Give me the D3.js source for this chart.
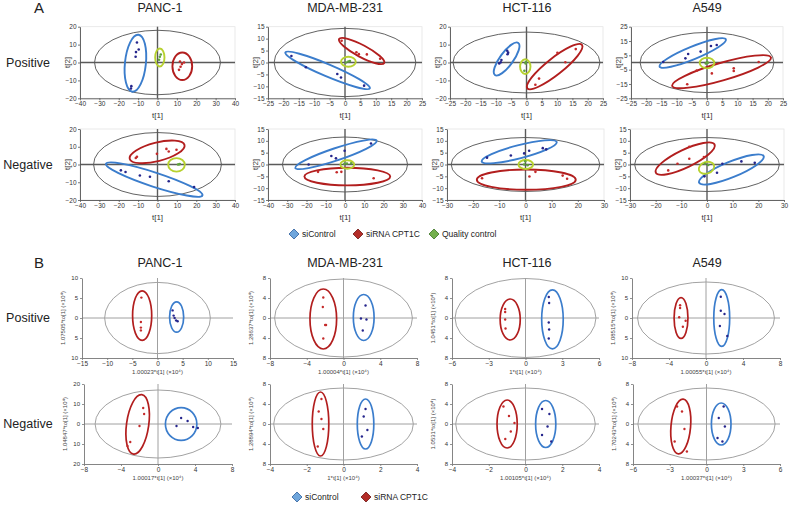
<!DOCTYPE html>
<html><head><meta charset="utf-8">
<script src="https://cdn.jsdelivr.net/npm/d3@7/dist/d3.min.js"></script>
<style>body{margin:0;background:#fff}svg{display:block}</style>
</head><body><svg id="c" width="789" height="514"></svg>
<script>
// ---------------- DATA ----------------
const cellLines = ["PANC-1", "MDA-MB-231", "HCT-116", "A549"];
const modes = ["Positive", "Negative"];
const groupsA = ["siControl", "siRNA CPT1C", "Quality control"];
const groupsB = ["siControl", "siRNA CPT1C"];

// Panel A (PCA score plots), order: Positive x4, Negative x4
const aXTicks = [
  [-40,-30,-20,-10,0,10,20,30,40], [-25,-20,-15,-10,-5,0,5,10,15,20,25],
  [-25,-20,-15,-10,-5,0,5,10,15,20,25], [-25,-20,-15,-10,-5,0,5,10,15,20,25],
  [-40,-30,-20,-10,0,10,20,30,40], [-40,-30,-20,-10,0,10,20,30,40],
  [-30,-20,-10,0,10,20,30], [-30,-20,-10,0,10,20,30]];
const aYTicks = [
  [-20,-10,0,10,20], [-15,-10,-5,0,5,10,15], [-20,-10,0,10,20], [-25,-15,-5,5,15,25],
  [-20,-10,0,10,20], [-15,-10,-5,0,5,10,15], [-15,-10,-5,0,5,10,15], [-15,-10,-5,0,5,10,15]];
const aYDomains = [[-20,20],[-15,15],[-20,20],[-25,25],[-20,20],[-15,15],[-15,15],[-15,15]];
const aHotelling = [[32.5,18],[23,14.3],[24,17],[22,21],[33,18],[32.5,11.6],[28.4,11.4],[28.2,11.4]];

// points [t1, t2]
const aPosPANC1Ctrl = [[-10.6,11.2],[-9.7,7.3],[-11.1,5.8],[-11.3,3.2],[-13.5,-13.2],[-13.7,-14.5]];
const aPosPANC1Si   = [[11.6,0.6],[13.7,0],[12.6,-0.9],[11.9,-2.4],[11.1,-4.1]];
const aPosPANC1Qc   = [[1.7,4.5],[1.2,3.2],[0.8,1.5]];
const aPosMDACtrl   = [[-17.4,2.7],[-12.7,-2.0],[-2.5,-4.8],[-1.3,-6.3],[6.2,-9.7]];
const aPosMDASi     = [[-1.1,9.1],[3.7,4.3],[4.5,3.5],[7.1,3.4],[11.4,1.6]];
const aPosMDAQc     = [[0.3,0],[1.1,0.4],[1.6,0.6]];
const aPosHCTCtrl   = [[-6.3,6.6],[-6.0,5.5],[-6.2,4.6],[-8.2,1.4],[-8.4,0.1],[-8.9,-0.5]];
const aPosHCTSi     = [[10.1,5.4],[16.1,7.5],[12.7,0.1],[4.1,-9.0],[2.9,-12.4]];
const aPosHCTQc     = [[-0.2,0.3],[-0.3,-0.5],[-0.7,-4.6]];
const aPosA549Ctrl  = [[-14.4,0.3],[-7.1,2.9],[-6.2,5.9],[-2.1,7.6],[1.3,11.5],[3.2,12.2]];
const aPosA549Si    = [[17.0,0.3],[8.8,-4.1],[8.8,-5.9],[1.6,-7.6],[-3.4,-5.7],[-6.5,-15.2]];
const aPosA549Qc    = [[0,0.3],[-0.4,-0.7],[0.3,-0.2]];
const aNegPANC1Ctrl = [[-18.9,-3.3],[-16.5,-4.2],[-9.1,-6.2],[-3.9,-6.9],[5.8,-9.4],[18.9,-12.7]];
const aNegPANC1Si   = [[-10.6,4.4],[-11.2,3.7],[-0.3,6.0],[4.6,8.8],[5.8,7.3],[9.8,8.3]];
const aNegPANC1Qc   = [[10.6,0],[11.3,0.1],[11.5,0.3]];
const aNegMDACtrl   = [[-18.9,0],[-7.1,3.6],[-4.7,2.6],[-0.2,5.8],[13.5,8.9]];
const aNegMDASi     = [[-14.0,-3.1],[-4.3,-3.3],[-1.9,-3.1],[14.9,-5.8]];
const aNegMDAQc     = [[-0.3,0.3],[1.0,0.4],[3.2,0.5]];
const aNegHCTCtrl   = [[-14.7,2.9],[-5.6,3.8],[-0.5,4.7],[1.4,5.8],[6.6,6.9],[7.9,6.4]];
const aNegHCTSi     = [[-16.6,-5.8],[1.5,-5.1],[3.8,-3.1],[14.2,-4.7],[15.9,-6.0]];
const aNegHCTQc     = [[-0.1,1.4],[-0.5,0],[0.8,-0.3]];
const aNegA549Ctrl  = [[3.9,-3.5],[13.4,1.3],[18.6,0.7],[6.0,0.3],[-1.0,-5.0]];
const aNegA549Si    = [[-6.9,7.5],[-6.9,2.4],[-11.5,0.3],[-15.1,-2.5],[-1.2,3.2]];
const aNegA549Qc    = [[-0.8,0.3],[0.5,-0.2]];

// group confidence ellipses: [cx, cy, semi-axis (t1 units), semi-axis (t2 units), tilt deg]  order ctrl, si, qc
const aEllipses = [
  [[-11.4,-0.4,5.4,16,6],[12.8,-2.1,5.1,7.7,0],[1.2,2.8,2.4,5,0]],
  [[-5.65,-3.3,14.9,2.55,23],[5.4,4.8,8.3,2.5,28],[1.1,0.3,2.4,2.1,0]],
  [[-6.5,1.95,6.5,3.7,-54],[9.2,-2.3,11.4,4.6,-38.4],[-0.4,-2.3,1.7,4.1,0]],
  [[-4.7,6.6,11.8,4.4,-22.3],[4.8,-6.4,16.9,6.1,-16.1],[0,-0.4,2.4,3.7,0]],
  [[-1.7,-8.5,26.2,4.0,18.1],[-0.2,7.1,14.6,5.2,-14.3],[9.8,-0.2,4.3,3.8,0]],
  [[-4.7,4.3,22.3,2.6,-18.5],[1.2,-5.1,22.3,3.7,0],[1.2,0,3.6,1.8,0]],
  [[-2.4,5.4,14.8,2.8,-14.5],[0.3,-6.4,18.9,4.3,0],[0.1,0,2.8,1.9,0]],
  [[9.5,-2.1,13.6,3.3,-22.3],[-8.5,2.5,12.7,3.75,-25.6],[-0.2,-1.4,3.1,2.4,-20]]];

// Panel B (OPLS-DA score plots)
const bXTicks = [
  [-15,-10,-5,0,5,10,15], [-8,-4,0,4,8], [-6,-3,0,3,6], [-8,-4,0,4,8],
  [-8,-4,0,4,8], [-4,-2,0,2,4], [-4,-2,0,2,4], [-6,-3,0,3,6]];
const bYTicks = [
  [-10,-5,0,5,10], [-8,-4,0,4,8], [-8,-4,0,4,8], [-10,-5,0,5,10],
  [-20,-10,0,10,20], [-8,-4,0,4,8], [-8,-4,0,4,8], [-8,-4,0,4,8]];
const bXLabels = ["1.00023*t[1] (×10⁴)", "1.00004*t[1] (×10⁴)", "1*t[1] (×10⁴)", "1.00055*t[1] (×10⁴)",
                  "1.00017*t[1] (×10⁴)", "1*t[1] (×10⁴)", "1.00105*t[1] (×10⁴)", "1.00037*t[1] (×10⁴)"];
const bYLabels = ["1.07505*to[1] (×10⁴)", "1.28637*to[1] (×10⁴)", "1.0451*to[1] (×10⁴)", "1.08515*to[1] (×10⁴)",
                  "1.04847*to[1] (×10⁴)", "1.28894*to[1] (×10⁴)", "1.0531*to[1] (×10⁴)", "1.70243*to[1] (×10⁴)"];
const bHotelling = [[10.5,8.9],[7.5,7.8],[5.75,7.9],[7.4,9],[6.8,17],[3.8,7.2],[3.8,7.2],[5.6,7.2]];

const bPosPANC1Ctrl = [[3.0,1.9],[3.2,0.6],[3.4,0],[3.7,-0.6],[4.0,-0.8]];
const bPosPANC1Si   = [[-3.2,5.1],[-3.3,-1.0],[-3.3,-2.4],[-3.3,-3.1]];
const bPosMDACtrl   = [[2.4,2.5],[1.9,-0.1],[2.5,-0.3],[2.1,-2.5]];
const bPosMDASi     = [[-2.2,4.1],[-2.25,2.2],[-2.0,-1.4],[-1.9,-1.4],[-2.2,-4.1]];
const bPosHCTCtrl   = [[1.9,4.2],[1.93,3.0],[1.9,-0.9],[1.93,-2.3],[1.9,-4.1]];
const bPosHCTSi     = [[-1.66,1.8],[-1.66,1.2],[-1.66,-0.3],[-1.63,-2.1]];
const bPosA549Ctrl  = [[1.6,5.3],[1.6,1.8],[2.0,1.0],[1.5,-2.0],[2.3,-4.5]];
const bPosA549Si    = [[-2.8,3.2],[-2.8,2.5],[-2.9,0.2],[-2.2,-0.7],[-2.5,-2.2]];
const bNegPANC1Ctrl = [[2.5,3],[3.2,1.5],[3.8,-1.5],[4.3,-2],[2.0,-1]];
const bNegPANC1Si   = [[-1.6,8],[-1.5,5],[-2.0,-1],[-3.0,-9],[-3.3,-11]];
const bNegMDACtrl   = [[1.2,3],[1.1,1.5],[1.3,-1.2],[1.0,-2.5]];
const bNegMDASi     = [[-1.2,5],[-1.35,2.5],[-1.2,1.0],[-1.1,-1],[-1.4,-4.5]];
const bNegHCTCtrl   = [[0.9,3],[1.3,2],[1.2,-0.5],[0.9,-2.2],[1.4,-3.5]];
const bNegHCTSi     = [[-1.2,3.5],[-0.9,1.6],[-0.6,0.2],[-0.8,-1.5],[-1.1,-3.0]];
const bNegA549Ctrl  = [[1.4,3.5],[1.0,1.2],[1.5,-0.5],[0.9,-2.8],[1.3,-3.5]];
const bNegA549Si    = [[-2.4,3.5],[-2.0,2.5],[-1.8,-1.0],[-2.6,-3.5],[-1.6,-5.5]];

const bEllipses = [
  [[3.8,0.25,1.4,3.8,0],[-3.05,0.6,1.9,6.2,0]],
  [[2.2,0.1,1.13,4.6,0],[-2.2,-0.2,1.45,6.0,0]],
  [[2.2,-0.27,0.88,5.9,0],[-1.25,-0.3,0.82,4.1,0]],
  [[1.7,0,0.86,7.1,0],[-2.7,0,0.75,5.1,0]],
  [[2.5,0,1.7,8.2,0],[-2.2,-0.2,1.2,15,8]],
  [[1.2,0,0.45,5,0],[-1.25,0,0.45,6.4,0]],
  [[1.1,0,0.55,4.7,0],[-1.0,0,0.55,4.8,0]],
  [[1.2,0,0.8,4.2,0],[-2.1,-0.5,0.8,5.5,5]]];

// ---------------- LAYOUT / STYLE ----------------
const FONT = "'Liberation Sans', Arial, Helvetica, sans-serif";
const C = {ctrl:"#3b7dcc", si:"#b21e1e", qc:"#b7d12f", ctrlPt:"#25258c", siPt:"#c42a2a", qcPt:"#5fa33a"};
const aCols = [[[80,235],[268,422],[450,603],[631,783]], [[80,235],[268,422],[447,604],[630,784]]];
const aRows = [[26.7,98.3],[129,200]];
const bCols = [[[82,233],[270,417],[452,599],[632,780]], [[84,232],[270,417],[452,599],[633,780]]];
const bRows = [[278,358],[384,464]];

const svg = d3.select("#c").style("font-family", FONT);

const aPoints = [
  [aPosPANC1Ctrl,aPosPANC1Si,aPosPANC1Qc],[aPosMDACtrl,aPosMDASi,aPosMDAQc],
  [aPosHCTCtrl,aPosHCTSi,aPosHCTQc],[aPosA549Ctrl,aPosA549Si,aPosA549Qc],
  [aNegPANC1Ctrl,aNegPANC1Si,aNegPANC1Qc],[aNegMDACtrl,aNegMDASi,aNegMDAQc],
  [aNegHCTCtrl,aNegHCTSi,aNegHCTQc],[aNegA549Ctrl,aNegA549Si,aNegA549Qc]];
const bPoints = [
  [bPosPANC1Ctrl,bPosPANC1Si],[bPosMDACtrl,bPosMDASi],[bPosHCTCtrl,bPosHCTSi],[bPosA549Ctrl,bPosA549Si],
  [bNegPANC1Ctrl,bNegPANC1Si],[bNegMDACtrl,bNegMDASi],[bNegHCTCtrl,bNegHCTSi],[bNegA549Ctrl,bNegA549Si]];

function drawEllipse(g, x, y, e, color, w) {
  const [cx, cy, rx, ry, rot] = e;
  const kx = Math.abs(x(1) - x(0)), ky = Math.abs(y(1) - y(0));
  const px = x(cx), py = y(cy);
  g.append("ellipse").attr("cx", px).attr("cy", py)
    .attr("rx", rx * kx).attr("ry", ry * ky)
    .attr("transform", `rotate(${rot},${px},${py})`)
    .attr("fill", "none").attr("stroke", color).attr("stroke-width", w);
}

function styleAxis(sel, col, fs) {
  sel.select(".domain").attr("stroke", col).attr("stroke-width", 0.9);
  sel.selectAll(".tick line").attr("stroke", col).attr("stroke-width", 0.8);
  sel.selectAll(".tick text").attr("fill", "#333").style("font-size", fs + "px").style("font-family", FONT);
}

// ---- panel A ----
for (let r = 0; r < 2; r++) {
  for (let c = 0; c < 4; c++) {
    const i = r * 4 + c;
    const [x0, x1] = aCols[r][c], [y0, y1] = aRows[r];
    const xt = aXTicks[i], yd = aYDomains[i];
    const x = d3.scaleLinear().domain([xt[0], xt[xt.length - 1]]).range([x0, x1]);
    const y = d3.scaleLinear().domain(yd).range([y1, y0]);
    const g = svg.append("g");
    g.append("rect").attr("x", x0).attr("y", y0).attr("width", x1 - x0).attr("height", y1 - y0)
      .attr("fill", "none").attr("stroke", "#e4e4e4").attr("stroke-width", 0.8);
    // Hotelling T2 ellipse
    const h = aHotelling[i];
    drawEllipse(g, x, y, [0, 0, h[0], h[1], 0], "#3a3a3a", 0.8);
    // zero lines
    g.append("line").attr("x1", x(0)).attr("x2", x(0)).attr("y1", y0).attr("y2", y1)
      .attr("stroke", "#5a5a5a").attr("stroke-width", 1.4);
    g.append("line").attr("x1", x0).attr("x2", x1).attr("y1", y(0)).attr("y2", y(0))
      .attr("stroke", "#5a5a5a").attr("stroke-width", 1.4);
    const cols = [C.ctrl, C.si, C.qc], pcols = [C.ctrlPt, C.siPt, C.qcPt];
    aEllipses[i].forEach((e, k) => drawEllipse(g, x, y, e, cols[k], 1.9));
    aPoints[i].forEach((pts, k) => {
      g.selectAll(null).data(pts).enter().append("circle")
        .attr("cx", d => x(d[0])).attr("cy", d => y(d[1])).attr("r", 1.3).attr("fill", pcols[k]);
    });
    const ax = g.append("g").attr("transform", `translate(0,${y1})`)
      .call(d3.axisBottom(x).tickValues(xt).tickSize(2).tickSizeOuter(0).tickPadding(1.5));
    styleAxis(ax, "#555", 6.5);
    const ay = g.append("g").attr("transform", `translate(${x0},0)`)
      .call(d3.axisLeft(y).tickValues(aYTicks[i]).tickSize(2).tickSizeOuter(0).tickPadding(1.5));
    styleAxis(ay, "#555", 6.5);
    g.append("text").attr("x", (x0 + x1) / 2).attr("y", y1 + 20).attr("text-anchor", "middle")
      .style("font-size", "8px").attr("fill", "#333").text("t[1]");
    g.append("text").attr("transform", `translate(${x0 - 10},${(y0 + y1) / 2}) rotate(-90)`)
      .attr("text-anchor", "middle").style("font-size", "8px").attr("fill", "#333").text("t[2]");
  }
}

// ---- panel B ----
for (let r = 0; r < 2; r++) {
  for (let c = 0; c < 4; c++) {
    const i = r * 4 + c;
    const [x0, x1] = bCols[r][c], [y0, y1] = bRows[r];
    const xt = bXTicks[i], yt = bYTicks[i];
    const x = d3.scaleLinear().domain([xt[0], xt[xt.length - 1]]).range([x0, x1]);
    const y = d3.scaleLinear().domain([yt[0], yt[yt.length - 1]]).range([y1, y0]);
    const g = svg.append("g");
    const h = bHotelling[i];
    drawEllipse(g, x, y, [0, 0, h[0], h[1], 0], "#8a8a8a", 0.8);
    g.append("line").attr("x1", x(0)).attr("x2", x(0)).attr("y1", y0).attr("y2", y1)
      .attr("stroke", "#a0a0a0").attr("stroke-width", 1);
    g.append("line").attr("x1", x0).attr("x2", x1).attr("y1", y(0)).attr("y2", y(0))
      .attr("stroke", "#a0a0a0").attr("stroke-width", 1);
    const cols = [C.ctrl, C.si], pcols = [C.ctrlPt, C.siPt];
    bEllipses[i].forEach((e, k) => drawEllipse(g, x, y, e, cols[k], 1.7));
    bPoints[i].forEach((pts, k) => {
      g.selectAll(null).data(pts).enter().append("circle")
        .attr("cx", d => x(d[0])).attr("cy", d => y(d[1])).attr("r", 1.2).attr("fill", pcols[k]);
    });
    const ax = g.append("g").attr("transform", `translate(0,${y1})`)
      .call(d3.axisBottom(x).tickValues(xt).tickSize(2).tickSizeOuter(0).tickPadding(1.5));
    styleAxis(ax, "#777", 6.5);
    const ay = g.append("g").attr("transform", `translate(${x0},0)`)
      .call(d3.axisLeft(y).tickValues(yt).tickSize(2).tickSizeOuter(0).tickPadding(2)
        .tickFormat(d => Math.abs(d)));
    styleAxis(ay, "#777", 6);
    g.append("text").attr("x", (x0 + x1) / 2).attr("y", y1 + 16).attr("text-anchor", "middle")
      .style("font-size", "6px").attr("fill", "#444").text(bXLabels[i]);
    g.append("text").attr("transform", `translate(${x0 - 17},${(y0 + y1) / 2}) rotate(-90)`)
      .attr("text-anchor", "middle").style("font-size", "6px").attr("fill", "#444").text(bYLabels[i]);
  }
}

// ---- titles / row labels ----
const titleX = [160, 345, 527, 707];
[["A", 8], ["B", 263]].forEach(([lab, ty], s) => {
  svg.append("text").attr("x", 39).attr("y", ty).attr("dy", "0.35em").attr("text-anchor", "middle")
    .style("font-size", "15px").attr("fill", "#222").text(lab);
  cellLines.forEach((cl, c) => svg.append("text").attr("x", titleX[c]).attr("y", ty).attr("dy", "0.35em")
    .attr("text-anchor", "middle").style("font-size", "12.5px").attr("fill", "#222").text(cl));
});
const rowY = [62.5, 164.5, 318, 424];
rowY.forEach((ry, k) => svg.append("text").attr("x", 28).attr("y", ry).attr("dy", "0.35em")
  .attr("text-anchor", "middle").style("font-size", "12.5px").attr("fill", "#222").text(modes[k % 2]));

// ---- legends ----
const legFill = [["#6fa6dc", "#2d5e9c"], ["#b32d28", "#6e1714"], ["#74b04e", "#3c7426"]];
function legend(ly, xs, groups) {
  groups.forEach((gname, k) => {
    const lx = xs[k];
    svg.append("path").attr("d", `M${lx},${ly - 5}L${lx + 5},${ly}L${lx},${ly + 5}L${lx - 5},${ly}Z`)
      .attr("fill", legFill[k][0]).attr("stroke", legFill[k][1]).attr("stroke-width", 0.8);
    svg.append("text").attr("x", lx + 8).attr("y", ly).attr("dy", "0.35em")
      .style("font-size", "8.5px").attr("fill", "#222").text(gname);
  });
}
legend(234, [294, 358, 434], groupsA);
legend(497, [297, 366], groupsB);
</script></body></html>
